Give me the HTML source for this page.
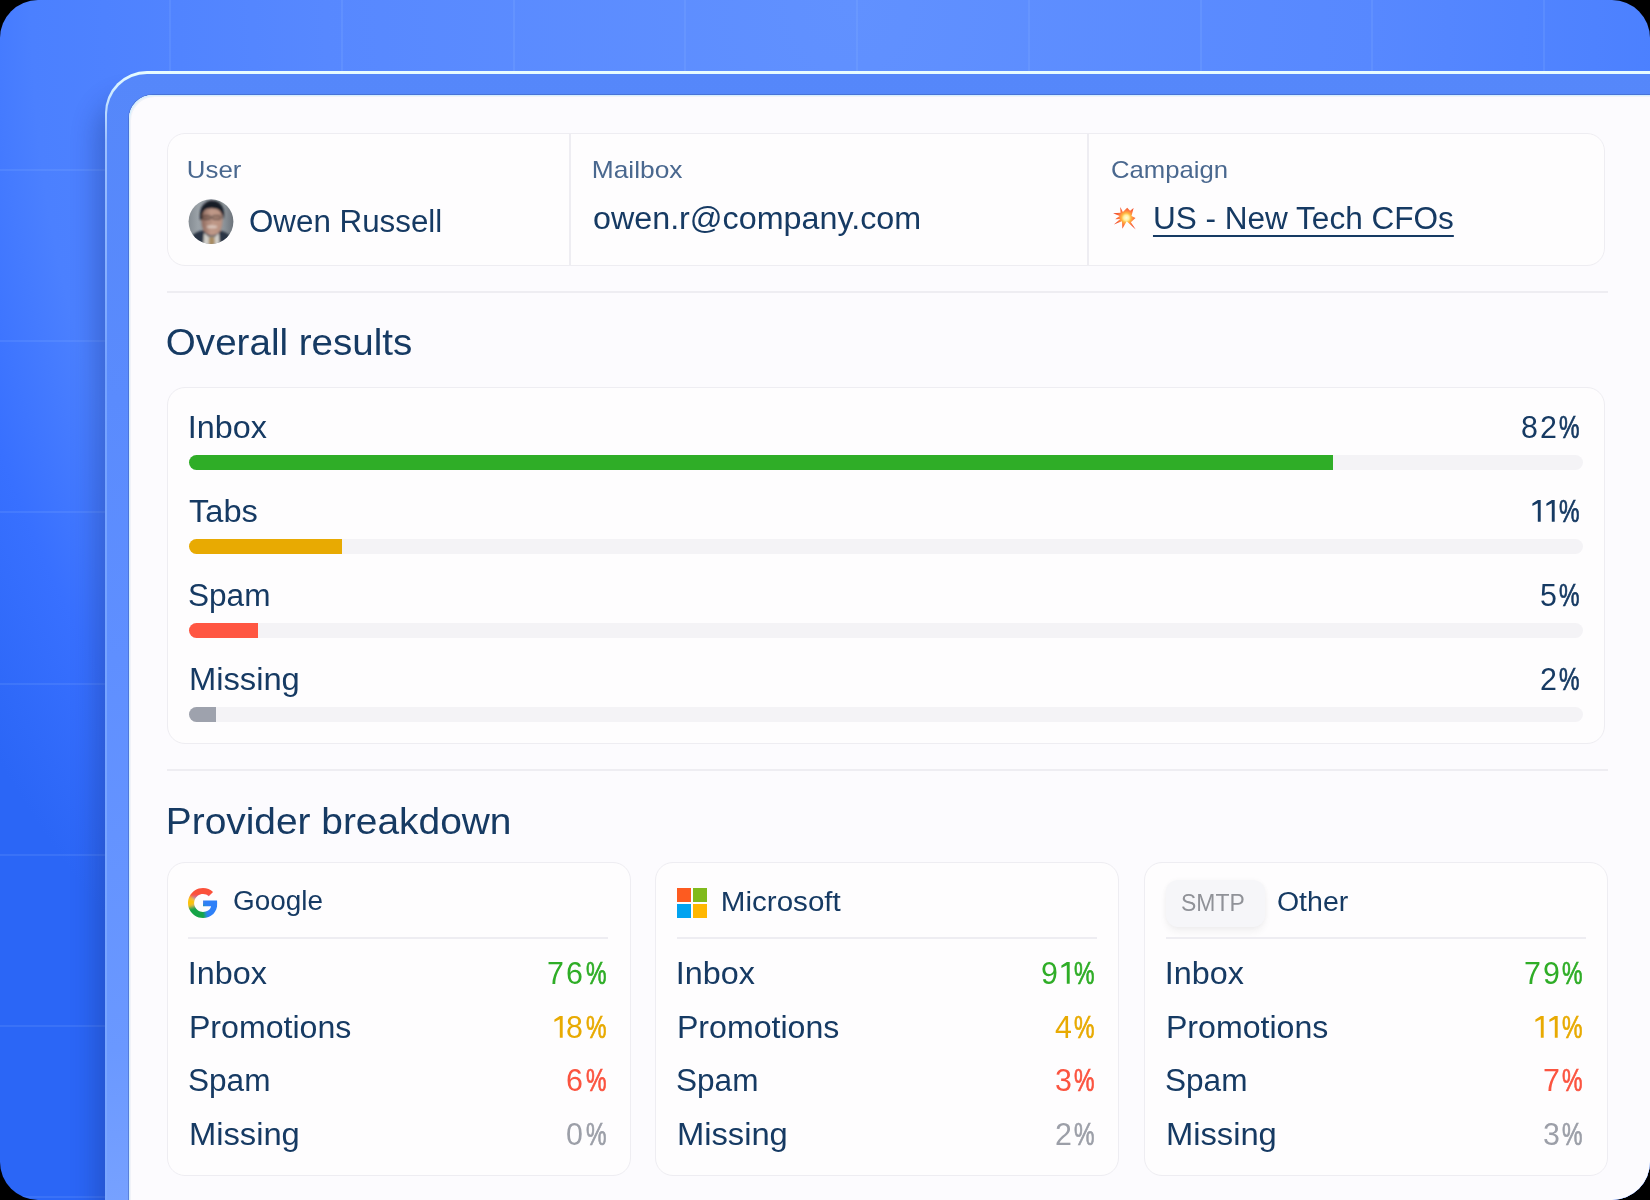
<!DOCTYPE html>
<html><head><meta charset="utf-8">
<style>
html,body{margin:0;padding:0;width:1650px;height:1200px;overflow:hidden;background:#000;font-family:"Liberation Sans",sans-serif;}
*{box-sizing:border-box;}
#bg{position:absolute;left:0;top:0;width:1650px;height:1200px;border-radius:38px;overflow:hidden;
 background:radial-gradient(ellipse 1050px 1300px at 850px 0px,#6191ff 0%,#5788ff 50%,#4b80ff 78%,#3870ff 88%,#2b66f6 100%);}
.gv{position:absolute;top:0;width:2px;height:1200px;background:rgba(160,200,255,0.13);}
.gh{position:absolute;left:0;height:2px;width:1650px;background:rgba(160,200,255,0.13);}
#shadow{position:absolute;left:105px;top:71px;width:1700px;height:1300px;border-radius:42px;box-shadow:-16px 20px 26px -8px rgba(20,40,110,0.32);}
#frame{position:absolute;left:105px;top:71px;width:1700px;height:1300px;border-radius:42px;
 background:linear-gradient(to bottom,#e8fdff 0px,#d0ecff 20px,#9cc0ff 70px,#74a2ff 300px,#7aa6ff 100%);}
#frame2{position:absolute;left:107px;top:74px;width:1700px;height:1300px;border-radius:40px 40px 0 0;
 background:linear-gradient(to bottom,#5587fa 0%,#5a8bfd 25%,#5f8fff 45%,#6a98ff 75%,#7ca5ff 92%);}
#panel{position:absolute;left:129px;top:95px;width:1600px;height:1200px;border-radius:24px;background:#fcfbfe;
 box-shadow:0 0 0 1px rgba(60,90,170,0.45), inset 1px 1px 0 #d6f0ff, inset 2px 2px 0 #f0f2f8;}
.t{position:absolute;white-space:nowrap;line-height:1;}
.card{position:absolute;background:#fefdfe;border:1.5px solid #eeedf2;border-radius:18px;}
.hr{position:absolute;height:2px;background:#eeedf2;}
.track{position:absolute;height:15px;border-radius:8px;background:#f4f3f6;left:189px;width:1394px;}
.fill{position:absolute;left:0;top:0;height:15px;border-radius:8px 0 0 8px;}
</style></head><body>
<div id="bg">
<div class="gv" style="left:169.0px"></div><div class="gv" style="left:340.8px"></div><div class="gv" style="left:512.5px"></div><div class="gv" style="left:684.2px"></div><div class="gv" style="left:856.0px"></div><div class="gv" style="left:1027.8px"></div><div class="gv" style="left:1199.5px"></div><div class="gv" style="left:1371.2px"></div><div class="gv" style="left:1543.0px"></div><div class="gh" style="top:169.0px"></div><div class="gh" style="top:340.2px"></div><div class="gh" style="top:511.4px"></div><div class="gh" style="top:682.6px"></div><div class="gh" style="top:853.8px"></div><div class="gh" style="top:1025.0px"></div><div class="gh" style="top:1196.2px"></div>
<div id="shadow"></div><div id="frame"></div><div id="frame2"></div>
<div id="panel"></div>
<div class="card" style="left:167px;top:133px;width:1438px;height:133px;"></div>
<div style="position:absolute;left:569px;top:134px;width:2px;height:131px;background:#eeedf2"></div>
<div style="position:absolute;left:1087px;top:134px;width:2px;height:131px;background:#eeedf2"></div>
<div class="t" style="left:187.3px;top:158px;font-size:24px;transform:scaleX(1.0755);transform-origin:2px 0;color:#4a688f;">User</div>
<div class="t" style="left:592.2px;top:158px;font-size:24px;transform:scaleX(1.0962);transform-origin:2px 0;color:#4a688f;">Mailbox</div>
<div class="t" style="left:1110.9px;top:158px;font-size:24px;transform:scaleX(1.0701);transform-origin:1px 0;color:#4a688f;">Campaign</div>
<svg style="position:absolute;left:185px;top:196px" width="52" height="52" viewBox="0 0 52 52">
<defs><clipPath id="av"><circle cx="26" cy="25.6" r="22.4"/></clipPath>
<linearGradient id="avbg" x1="0" x2="1"><stop offset="0" stop-color="#7d848b"/><stop offset="0.25" stop-color="#9ba2a8"/><stop offset="0.75" stop-color="#8c9399"/><stop offset="1" stop-color="#60676f"/></linearGradient>
<linearGradient id="skin" x1="0" x2="1"><stop offset="0" stop-color="#8a665a"/><stop offset="0.45" stop-color="#c09a8a"/><stop offset="1" stop-color="#b8907f"/></linearGradient>
<filter id="soft" x="-20%" y="-20%" width="140%" height="140%"><feGaussianBlur stdDeviation="0.9"/></filter></defs>
<g clip-path="url(#av)">
<rect x="0" y="0" width="52" height="52" fill="url(#avbg)"/>
<g filter="url(#soft)">
<path d="M2 52 L4 44 Q8 36 17 34.5 L35 34.5 Q44 36 48 44 L50 52 Z" fill="#2c3444"/>
<path d="M18 52 L19 37 L23.5 40.5 L30 40.5 L34 37 L35 52 Z" fill="#d0cec8"/>
<path d="M23.5 52 L24 41 L29.5 41 L30 52 Z" fill="#a88c64"/>
<path d="M16.5 20 Q16 31 19.5 36 Q23 39.5 27 39.5 Q31 39.5 34.5 36 Q38 31 37.5 20 Q36.5 12 27 11.5 Q17.5 12 16.5 20 Z" fill="url(#skin)"/>
<path d="M15 24 Q13.5 7 26 4.5 Q38 4.5 39 17 Q39.2 21 38 24 Q37.5 14.5 31 12.8 Q27 11.8 22 12.8 Q16.8 14.5 16.5 24 Z" fill="#161b25"/>
<rect x="17.3" y="19.6" width="8.4" height="3.8" rx="1.3" fill="#5a4036" fill-opacity="0.3" stroke="#2a2426" stroke-width="0.8"/>
<rect x="27.3" y="19.6" width="8.4" height="3.8" rx="1.3" fill="#5a4036" fill-opacity="0.2" stroke="#2a2426" stroke-width="0.8"/>
<ellipse cx="27" cy="30.8" rx="5.2" ry="1.5" fill="#e2d4cc" fill-opacity="0.75"/>
<path d="M26.2 24.5 L25.2 27.8" stroke="#7a5a4e" stroke-width="0.9" stroke-opacity="0.5"/>
</g></g></svg>
<div class="t" style="left:248.6px;top:206px;font-size:31px;transform:scaleX(1.0106);transform-origin:1px 0;color:#163a63;">Owen Russell</div>
<div class="t" style="left:593.4px;top:203px;font-size:31px;transform:scaleX(1.0413);transform-origin:1px 0;color:#163a63;">owen.r@company.com</div>
<svg style="position:absolute;left:1108px;top:202px" width="34" height="32" viewBox="0 0 34 32">
<defs><radialGradient id="boom" gradientUnits="userSpaceOnUse" cx="18.3" cy="15.8" r="12"><stop offset="0" stop-color="#fffbe0"/><stop offset="0.22" stop-color="#fff0a0"/><stop offset="0.4" stop-color="#ffb640"/><stop offset="0.62" stop-color="#ff7a40"/><stop offset="1" stop-color="#ee4424"/></radialGradient></defs>
<polygon points="12.3,4.9 14.9,10.1 19.2,5.7 22.1,8.8 25.6,6.1 23.5,13.9 27.5,16 22.9,20.3 27.7,27.5 18.7,19.2 14.4,26.7 13.9,19.2 5.9,22.4 12.3,17.1 7.2,17.3 11.7,13.9 5.1,11.2 12.5,10.7" fill="url(#boom)"/>
</svg>
<div class="t" style="left:1152.5px;top:203px;font-size:31px;transform:scaleX(1.0174);transform-origin:2px 0;color:#163a63;text-decoration:underline;text-decoration-thickness:2px;text-underline-offset:6px;">US - New Tech CFOs</div>
<div class="hr" style="left:167px;top:291px;width:1441px;"></div>
<div class="t" style="left:166.2px;top:325px;font-size:36px;transform:scaleX(1.0714);transform-origin:2px 0;color:#163a63;">Overall results</div>
<div class="card" style="left:167px;top:387px;width:1438px;height:357px;"></div>
<div class="t" style="left:187.9px;top:412px;font-size:31px;transform:scaleX(1.0431);transform-origin:3px 0;color:#163a63;">Inbox</div>
<div class="t" style="left:1559.1px;top:412px;font-size:31px;transform:scaleX(0.745);transform-origin:0 0;color:#163a63;-webkit-text-stroke:0.7px #163a63">%</div><div class="t" style="left:1539.5px;top:412px;font-size:31px;transform:scaleX(0.98);transform-origin:0 0;color:#163a63">2</div><div class="t" style="left:1520.8px;top:412px;font-size:31px;transform:scaleX(0.98);transform-origin:0 0;color:#163a63">8</div>
<div class="track" style="top:455px;"><div class="fill" style="width:1144px;background:#2fad27"></div></div>
<div class="t" style="left:188.7px;top:496px;font-size:31px;transform:scaleX(1.0516);transform-origin:1px 0;color:#163a63;">Tabs</div>
<div class="t" style="left:1559.1px;top:496px;font-size:31px;transform:scaleX(0.745);transform-origin:0 0;color:#163a63;-webkit-text-stroke:0.7px #163a63">%</div><svg style="position:absolute;left:1545.7px;top:500.4px" width="9" height="22" viewBox="0 0 9 22"><polygon points="0.4,3.5 5.8,0 8.7,0 8.7,21.8 5.8,21.8 5.8,3.3 0.4,6.1" fill="#163a63"/></svg><svg style="position:absolute;left:1531.7px;top:500.4px" width="9" height="22" viewBox="0 0 9 22"><polygon points="0.4,3.5 5.8,0 8.7,0 8.7,21.8 5.8,21.8 5.8,3.3 0.4,6.1" fill="#163a63"/></svg>
<div class="track" style="top:539px;"><div class="fill" style="width:153px;background:#e8aa02"></div></div>
<div class="t" style="left:187.9px;top:580px;font-size:31px;transform:scaleX(1.0182);transform-origin:2px 0;color:#163a63;">Spam</div>
<div class="t" style="left:1559.1px;top:580px;font-size:31px;transform:scaleX(0.745);transform-origin:0 0;color:#163a63;-webkit-text-stroke:0.7px #163a63">%</div><div class="t" style="left:1539.5px;top:580px;font-size:31px;transform:scaleX(0.98);transform-origin:0 0;color:#163a63">5</div>
<div class="track" style="top:623px;"><div class="fill" style="width:69px;background:#ff5642"></div></div>
<div class="t" style="left:188.7px;top:664px;font-size:31px;transform:scaleX(1.0554);transform-origin:2px 0;color:#163a63;">Missing</div>
<div class="t" style="left:1559.1px;top:664px;font-size:31px;transform:scaleX(0.745);transform-origin:0 0;color:#163a63;-webkit-text-stroke:0.7px #163a63">%</div><div class="t" style="left:1539.5px;top:664px;font-size:31px;transform:scaleX(0.98);transform-origin:0 0;color:#163a63">2</div>
<div class="track" style="top:707px;"><div class="fill" style="width:27px;background:#9ea2ad"></div></div>
<div class="hr" style="left:167px;top:769px;width:1441px;"></div>
<div class="t" style="left:166.0px;top:804px;font-size:36px;transform:scaleX(1.0797);transform-origin:3px 0;color:#163a63;">Provider breakdown</div>
<div class="card" style="left:167px;top:862px;width:464px;height:314px;"></div>
<div class="card" style="left:655px;top:862px;width:464px;height:314px;"></div>
<div class="card" style="left:1144px;top:862px;width:464px;height:314px;"></div>
<svg style="position:absolute;left:188px;top:888px" width="30" height="30" viewBox="0 0 48 48">
<defs><clipPath id="gclip">
<path d="M24 9.5c3.54 0 6.71 1.22 9.21 3.6l6.85-6.85C35.9 2.38 30.47 0 24 0 14.62 0 6.51 5.38 2.56 13.22l7.98 6.19C12.43 13.72 17.74 9.5 24 9.5z"/>
<path d="M46.98 24.55c0-1.57-.15-3.09-.38-4.55H24v9.02h12.94c-.58 2.96-2.26 5.48-4.78 7.18l7.73 6c4.51-4.18 7.09-10.36 7.09-17.65z"/>
<path d="M10.53 28.59c-.48-1.45-.76-2.99-.76-4.59s.27-3.14.76-4.59l-7.98-6.19C.92 16.46 0 20.12 0 24c0 3.88.92 7.54 2.56 10.78l7.97-6.19z"/>
<path d="M24 48c6.48 0 11.93-2.13 15.89-5.81l-7.730-6c-2.15 1.45-4.92 2.3-8.16 2.3-6.26 0-11.57-4.22-13.47-9.91l-7.98 6.19C6.51 42.62 14.62 48 24 48z"/>
</clipPath>
<filter id="gblur" x="-50%" y="-50%" width="200%" height="200%"><feGaussianBlur stdDeviation="2.5"/></filter></defs>
<g clip-path="url(#gclip)"><g filter="url(#gblur)">
<rect x="-10" y="-10" width="68" height="68" fill="#2f80f8"/>
<polygon points="26,15 60,12 60,-12 -12,-12 -12,14" fill="#fb513a"/>
<polygon points="24,22 -12,8 -12,38" fill="#fcc20c"/>
<polygon points="26,27 -12,32 -12,60 31,60" fill="#12a447"/>
</g></g>
</svg>
<div class="t" style="left:233.0px;top:888px;font-size:27px;transform:scaleX(1.0329);transform-origin:1px 0;color:#163a63;">Google</div>
<div style="position:absolute;left:677px;top:888px;width:14.3px;height:14.2px;background:#fd5b20"></div><div style="position:absolute;left:692.6px;top:888px;width:14.4px;height:14.2px;background:#80ba1c"></div><div style="position:absolute;left:677px;top:903.6px;width:14.3px;height:14.3px;background:#02a3f0"></div><div style="position:absolute;left:692.6px;top:903.6px;width:14.4px;height:14.3px;background:#ffb702"></div>
<div class="t" style="left:720.7px;top:889px;font-size:27px;transform:scaleX(1.0954);transform-origin:2px 0;color:#163a63;">Microsoft</div>
<div style="position:absolute;left:1166px;top:880px;width:99px;height:47px;border-radius:12px;background:#f6f6f9;box-shadow:0 5px 8px -1px rgba(0,0,0,0.06),0 0 5px rgba(0,0,0,0.03);"></div>
<div class="t" style="left:1180.5px;top:892px;font-size:23px;transform:scaleX(0.9984);transform-origin:1px 0;color:#909298;">SMTP</div>
<div class="t" style="left:1276.9px;top:889px;font-size:27px;transform:scaleX(1.0561);transform-origin:1px 0;color:#163a63;">Other</div>
<div class="hr" style="left:188px;top:937px;width:420px;"></div>
<div class="hr" style="left:677px;top:937px;width:420px;"></div>
<div class="hr" style="left:1166px;top:937px;width:420px;"></div>
<div class="t" style="left:187.9px;top:958px;font-size:31px;transform:scaleX(1.0431);transform-origin:3px 0;color:#163a63;">Inbox</div>
<div class="t" style="left:585.7px;top:958px;font-size:31px;transform:scaleX(0.745);transform-origin:0 0;color:#2fad27;-webkit-text-stroke:0.7px #2fad27">%</div><div class="t" style="left:566.1px;top:958px;font-size:31px;transform:scaleX(0.98);transform-origin:0 0;color:#2fad27">6</div><div class="t" style="left:547.4px;top:958px;font-size:31px;transform:scaleX(0.98);transform-origin:0 0;color:#2fad27">7</div>
<div class="t" style="left:188.9px;top:1012px;font-size:31px;transform:scaleX(1.0364);transform-origin:2px 0;color:#163a63;">Promotions</div>
<div class="t" style="left:585.7px;top:1012px;font-size:31px;transform:scaleX(0.745);transform-origin:0 0;color:#e8aa02;-webkit-text-stroke:0.7px #e8aa02">%</div><div class="t" style="left:566.1px;top:1012px;font-size:31px;transform:scaleX(0.98);transform-origin:0 0;color:#e8aa02">8</div><svg style="position:absolute;left:553.9px;top:1015.8px" width="9" height="22" viewBox="0 0 9 22"><polygon points="0.4,3.5 5.8,0 8.7,0 8.7,21.8 5.8,21.8 5.8,3.3 0.4,6.1" fill="#e8aa02"/></svg>
<div class="t" style="left:187.9px;top:1065px;font-size:31px;transform:scaleX(1.0182);transform-origin:2px 0;color:#163a63;">Spam</div>
<div class="t" style="left:585.7px;top:1065px;font-size:31px;transform:scaleX(0.745);transform-origin:0 0;color:#fb5440;-webkit-text-stroke:0.7px #fb5440">%</div><div class="t" style="left:566.1px;top:1065px;font-size:31px;transform:scaleX(0.98);transform-origin:0 0;color:#fb5440">6</div>
<div class="t" style="left:188.7px;top:1119px;font-size:31px;transform:scaleX(1.0554);transform-origin:2px 0;color:#163a63;">Missing</div>
<div class="t" style="left:585.7px;top:1119px;font-size:31px;transform:scaleX(0.745);transform-origin:0 0;color:#9c9fa8;-webkit-text-stroke:0.7px #9c9fa8">%</div><div class="t" style="left:566.1px;top:1119px;font-size:31px;transform:scaleX(0.98);transform-origin:0 0;color:#9c9fa8">0</div>
<div class="t" style="left:675.9px;top:958px;font-size:31px;transform:scaleX(1.0431);transform-origin:3px 0;color:#163a63;">Inbox</div>
<div class="t" style="left:1074.4px;top:958px;font-size:31px;transform:scaleX(0.745);transform-origin:0 0;color:#2fad27;-webkit-text-stroke:0.7px #2fad27">%</div><svg style="position:absolute;left:1061.0px;top:961.7px" width="9" height="22" viewBox="0 0 9 22"><polygon points="0.4,3.5 5.8,0 8.7,0 8.7,21.8 5.8,21.8 5.8,3.3 0.4,6.1" fill="#2fad27"/></svg><div class="t" style="left:1040.8px;top:958px;font-size:31px;transform:scaleX(0.98);transform-origin:0 0;color:#2fad27">9</div>
<div class="t" style="left:676.9px;top:1012px;font-size:31px;transform:scaleX(1.0364);transform-origin:2px 0;color:#163a63;">Promotions</div>
<div class="t" style="left:1074.4px;top:1012px;font-size:31px;transform:scaleX(0.745);transform-origin:0 0;color:#e8aa02;-webkit-text-stroke:0.7px #e8aa02">%</div><div class="t" style="left:1054.8px;top:1012px;font-size:31px;transform:scaleX(0.98);transform-origin:0 0;color:#e8aa02">4</div>
<div class="t" style="left:675.9px;top:1065px;font-size:31px;transform:scaleX(1.0182);transform-origin:2px 0;color:#163a63;">Spam</div>
<div class="t" style="left:1074.4px;top:1065px;font-size:31px;transform:scaleX(0.745);transform-origin:0 0;color:#fb5440;-webkit-text-stroke:0.7px #fb5440">%</div><div class="t" style="left:1054.8px;top:1065px;font-size:31px;transform:scaleX(0.98);transform-origin:0 0;color:#fb5440">3</div>
<div class="t" style="left:676.7px;top:1119px;font-size:31px;transform:scaleX(1.0554);transform-origin:2px 0;color:#163a63;">Missing</div>
<div class="t" style="left:1074.4px;top:1119px;font-size:31px;transform:scaleX(0.745);transform-origin:0 0;color:#9c9fa8;-webkit-text-stroke:0.7px #9c9fa8">%</div><div class="t" style="left:1054.8px;top:1119px;font-size:31px;transform:scaleX(0.98);transform-origin:0 0;color:#9c9fa8">2</div>
<div class="t" style="left:1164.9px;top:958px;font-size:31px;transform:scaleX(1.0431);transform-origin:3px 0;color:#163a63;">Inbox</div>
<div class="t" style="left:1562.3px;top:958px;font-size:31px;transform:scaleX(0.745);transform-origin:0 0;color:#2fad27;-webkit-text-stroke:0.7px #2fad27">%</div><div class="t" style="left:1542.7px;top:958px;font-size:31px;transform:scaleX(0.98);transform-origin:0 0;color:#2fad27">9</div><div class="t" style="left:1524.0px;top:958px;font-size:31px;transform:scaleX(0.98);transform-origin:0 0;color:#2fad27">7</div>
<div class="t" style="left:1165.9px;top:1012px;font-size:31px;transform:scaleX(1.0364);transform-origin:2px 0;color:#163a63;">Promotions</div>
<div class="t" style="left:1562.3px;top:1012px;font-size:31px;transform:scaleX(0.745);transform-origin:0 0;color:#e8aa02;-webkit-text-stroke:0.7px #e8aa02">%</div><svg style="position:absolute;left:1548.9px;top:1015.8px" width="9" height="22" viewBox="0 0 9 22"><polygon points="0.4,3.5 5.8,0 8.7,0 8.7,21.8 5.8,21.8 5.8,3.3 0.4,6.1" fill="#e8aa02"/></svg><svg style="position:absolute;left:1534.9px;top:1015.8px" width="9" height="22" viewBox="0 0 9 22"><polygon points="0.4,3.5 5.8,0 8.7,0 8.7,21.8 5.8,21.8 5.8,3.3 0.4,6.1" fill="#e8aa02"/></svg>
<div class="t" style="left:1164.9px;top:1065px;font-size:31px;transform:scaleX(1.0182);transform-origin:2px 0;color:#163a63;">Spam</div>
<div class="t" style="left:1562.3px;top:1065px;font-size:31px;transform:scaleX(0.745);transform-origin:0 0;color:#fb5440;-webkit-text-stroke:0.7px #fb5440">%</div><div class="t" style="left:1542.7px;top:1065px;font-size:31px;transform:scaleX(0.98);transform-origin:0 0;color:#fb5440">7</div>
<div class="t" style="left:1165.7px;top:1119px;font-size:31px;transform:scaleX(1.0554);transform-origin:2px 0;color:#163a63;">Missing</div>
<div class="t" style="left:1562.3px;top:1119px;font-size:31px;transform:scaleX(0.745);transform-origin:0 0;color:#9c9fa8;-webkit-text-stroke:0.7px #9c9fa8">%</div><div class="t" style="left:1542.7px;top:1119px;font-size:31px;transform:scaleX(0.98);transform-origin:0 0;color:#9c9fa8">3</div>
</div>
</body></html>
